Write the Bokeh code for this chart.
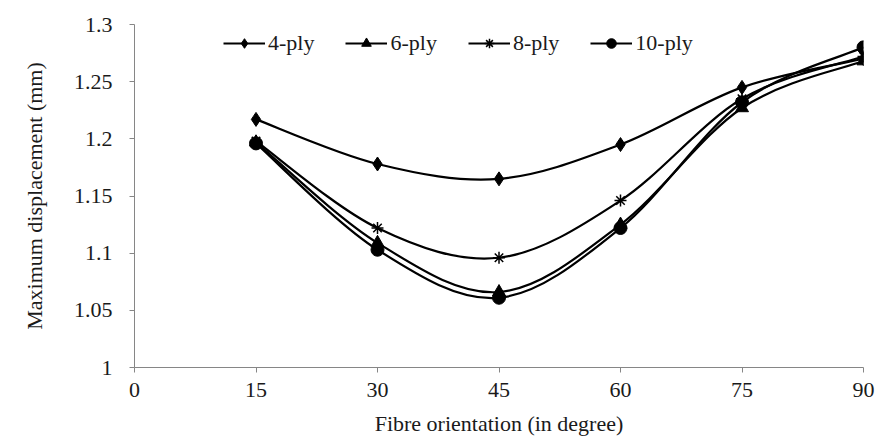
import numpy as np
from bokeh.plotting import figure
from bokeh.models import FixedTicker, Legend, LegendItem
from bokeh.embed import file_html
from bokeh.resources import INLINE

# ---- data ----
orientation = [15, 30, 45, 60, 75, 90]
ply4 = [1.217, 1.178, 1.165, 1.195, 1.245, 1.270]
ply6 = [1.197, 1.109, 1.066, 1.125, 1.227, 1.268]
ply8 = [1.198, 1.122, 1.096, 1.146, 1.235, 1.272]
ply10 = [1.196, 1.103, 1.061, 1.122, 1.232, 1.280]
series_names = ["4-ply", "6-ply", "8-ply", "10-ply"]
x_ticks = [0, 15, 30, 45, 60, 75, 90]
y_ticks = [1.0, 1.05, 1.1, 1.15, 1.2, 1.25, 1.3]
y_tick_labels = ["1", "1.05", "1.1", "1.15", "1.2", "1.25", "1.3"]

FONT = "Liberation Serif"
FS = "22px"

p = figure(width=880, height=447, output_backend="svg", toolbar_location=None,
           x_range=(0, 90), y_range=(1.0, 1.3),
           min_border_left=134, min_border_right=17, min_border_top=24, min_border_bottom=80,
           frame_width=729, frame_height=343)
p.outline_line_color = None
p.grid.visible = False
p.background_fill_color = "white"
p.border_fill_color = "white"

for ax in (p.xaxis[0], p.yaxis[0]):
    ax.axis_line_color = "#868686"
    ax.major_tick_line_color = "#868686"
    ax.minor_tick_line_color = None
    ax.major_tick_in = 0
    ax.major_tick_out = 5
    ax.major_label_text_font = FONT
    ax.major_label_text_font_size = FS
    ax.major_label_text_color = "#1a1a1a"
    ax.axis_label_text_font = FONT
    ax.axis_label_text_font_size = FS
    ax.axis_label_text_font_style = "normal"
    ax.axis_label_text_color = "#1a1a1a"

p.xaxis.ticker = FixedTicker(ticks=x_ticks)
p.yaxis.ticker = FixedTicker(ticks=y_ticks)
p.yaxis.major_label_overrides = {t: l for t, l in zip(y_ticks, y_tick_labels)}
p.xaxis.axis_label = "Fibre orientation (in degree)"
p.yaxis.axis_label = "Maximum displacement (mm)"
p.xaxis.major_label_standoff = 10
p.yaxis.major_label_standoff = 17
p.xaxis.axis_label_standoff = 11
p.yaxis.axis_label_standoff = 24


def bezier_pieces(xs, ys):
    xs = np.asarray(xs, float)
    ys = np.asarray(ys, float)
    n = len(xs)
    xp = np.concatenate([[xs[0]], xs, [xs[-1]]])
    yp = np.concatenate([[ys[0]], ys, [ys[-1]]])
    i = np.arange(n - 1)
    x0, y0 = xs[:-1], ys[:-1]
    x1, y1 = xs[1:], ys[1:]
    cx0 = x0 + (xp[i + 2] - xp[i]) / 6.0
    cy0 = y0 + (yp[i + 2] - yp[i]) / 6.0
    cx1 = x1 - (xp[i + 3] - xp[i + 1]) / 6.0
    cy1 = y1 - (yp[i + 3] - yp[i + 1]) / 6.0
    return dict(x0=x0, y0=y0, x1=x1, y1=y1, cx0=cx0, cy0=cy0, cx1=cx1, cy1=cy1)


markers = ["diamond", "triangle", "asterisk", "circle"]
sizes = [14, 13, 12, 13]
items = []
for name, vals, mk, sz in zip(series_names, [ply4, ply6, ply8, ply10], markers, sizes):
    bz = p.bezier(line_color="black", line_width=2.2, **bezier_pieces(orientation, vals))
    sc = p.scatter(orientation, vals, marker=mk, size=sz, fill_color="black",
                   line_color="black", line_width=1.5 if mk == "asterisk" else 1)
    items.append(LegendItem(label=name, renderers=[bz, sc]))

legend = Legend(items=items, orientation="horizontal", location=(89, 311))
legend.background_fill_alpha = 0
legend.border_line_color = None
legend.padding = 0
legend.margin = 0
legend.spacing = 31
legend.glyph_width = 42
legend.glyph_height = 24
legend.label_height = 24
legend.label_standoff = 3
legend.label_text_font = FONT
legend.label_text_font_size = FS
legend.label_text_color = "#1a1a1a"
p.add_layout(legend)

open("out.html", "w").write(file_html(p, INLINE))
